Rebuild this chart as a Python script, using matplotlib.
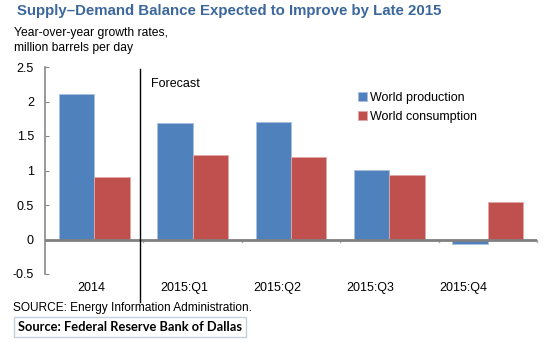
import matplotlib
matplotlib.use("Agg")
import matplotlib.pyplot as plt
import numpy as np

plt.rcParams['font.family'] = ['Liberation Sans', 'DejaVu Sans']

categories = ["2014", "2015:Q1", "2015:Q2", "2015:Q3", "2015:Q4"]
production = [2.11, 1.69, 1.71, 1.01, -0.06]
consumption = [0.91, 1.23, 1.20, 0.94, 0.55]
yticks = [-0.5, 0, 0.5, 1, 1.5, 2, 2.5]
ytick_labels = ["-0.5", "0", "0.5", "1", "1.5", "2", "2.5"]

BLUE = "#4f81bd"
RED = "#c0504d"

W, H = 552, 342
fig = plt.figure(figsize=(W / 100, H / 100), dpi=100)
ax = fig.add_axes([45 / W, (H - 274) / H, (537 - 45) / W, (274 - 67) / H])

x = np.arange(len(categories))
bw = 0.36
ax.bar(x - bw / 2, production, bw, color=BLUE, edgecolor="#a9c0de", linewidth=0.6,
       label="World production", zorder=2)
ax.bar(x + bw / 2, consumption, bw, color=RED, edgecolor="#e0a9a7", linewidth=0.6,
       label="World consumption", zorder=2)

ax.set_xlim(-0.5, len(categories) - 0.5)
ax.set_ylim(-0.5, 2.5)
ax.set_yticks(yticks)
ax.set_yticklabels(ytick_labels, fontsize=9)
ax.set_xticks([])

for s in ["top", "right", "bottom"]:
    ax.spines[s].set_visible(False)
ax.spines["left"].set_color("#888888")
ax.spines["left"].set_linewidth(1.2)
ax.tick_params(axis="y", direction="in", length=3, color="#888888", pad=8)

# zero line with category separators
ax.axhline(0, color="#808080", linewidth=2, zorder=3)
for b in np.arange(0.5, len(categories) - 0.5 + 0.01, 1.0):
    ax.plot([b, b], [0, -0.04], color="#aaaaaa", linewidth=1, zorder=1, clip_on=False)

# category labels, laid out on a slightly narrower pitch than the bars
label_pitch = 0.945
for xi, lab in zip(x, categories):
    ax.text(xi * label_pitch - 0.03, -0.61, lab, ha="center", va="top", fontsize=9,
            clip_on=False)

# forecast divider
ax.plot([0.47, 0.47], [2.47, -0.9], color="black", linewidth=1, clip_on=False, zorder=4)
ax.text(0.58, 2.26, "Forecast", fontsize=9, ha="left", va="center")

leg = ax.legend(loc="upper left", bbox_to_anchor=(0.627, 0.905), frameon=False,
                fontsize=9, handlelength=0.7, handleheight=0.7, handletextpad=0.2,
                labelspacing=0.55, borderaxespad=0)

fig.text(17 / W, 1 - 11 / H, "Supply\u2013Demand Balance Expected to Improve by Late 2015",
         fontsize=10.8, fontweight="bold", color="#3b679c", ha="left", va="center")
fig.text(14 / W, 1 - 33 / H, "Year-over-year growth rates,", fontsize=8.7, ha="left", va="center")
fig.text(14 / W, 1 - 48 / H, "million barrels per day", fontsize=8.7, ha="left", va="center")
fig.text(13 / W, 1 - 308 / H, "SOURCE: Energy Information Administration.", fontsize=8.6,
         ha="left", va="center")
fig.text(18 / W, 1 - 327 / H, "Source: Federal Reserve Bank of Dallas", fontsize=9.3,
         fontweight="bold", family=["Lato", "DejaVu Sans"], ha="left", va="center",
         bbox=dict(boxstyle="square,pad=0.3", facecolor="white", edgecolor="#c5cfdc",
                   linewidth=1))

fig.savefig("out.png", dpi=100)
